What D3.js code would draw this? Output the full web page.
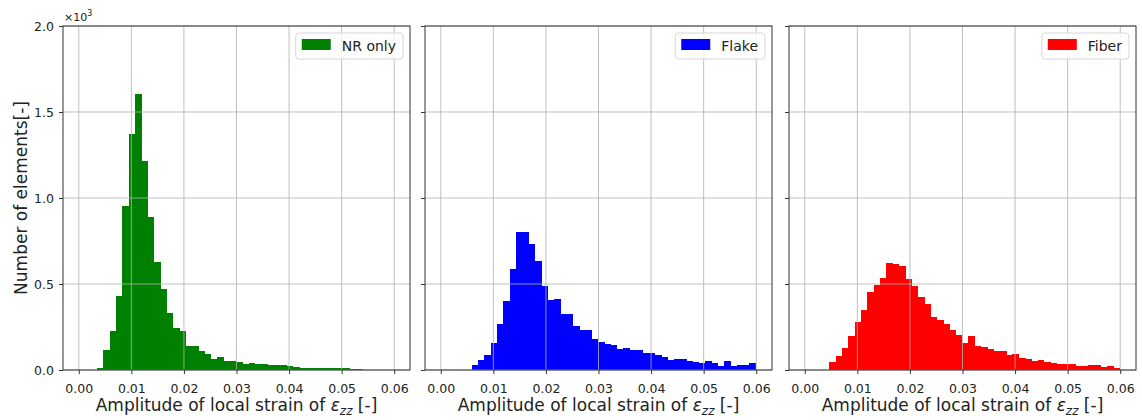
<!DOCTYPE html>
<html>
<head>
<meta charset="utf-8">
<script src="https://cdn.jsdelivr.net/npm/d3@7"></script>
<style>
  body { margin: 0; background: #fff; }
  text { font-family: "DejaVu Sans", sans-serif; fill: #222; }
</style>
</head>
<body>
<svg id="chart" width="1142" height="420"></svg>
<script>
// histogram counts, every bin is 0.0012 wide
const binWidth = 0.0012

const nrStart = 0.0035
const nrCounts = [12, 117, 226, 432, 955, 1371, 1606, 1217, 891, 626, 473, 331, 245, 224, 138, 142,
  113, 91, 64, 78, 51, 51, 45, 37, 41, 37, 33, 29, 27, 31, 23, 19, 14, 12, 10, 12, 14, 14, 12, 10, 6, 4]

const flakeStart = 0.0059
const flakeCounts = [27, 56, 89, 157, 266, 401, 590, 805, 800, 735, 635, 487, 408, 413, 325, 325,
  255, 232, 232, 183, 164, 149, 143, 125, 129, 115, 115, 96, 96, 86, 74, 57, 62, 62, 55, 47, 39,
  53, 43, 25, 55, 25, 31, 31, 43]

const fiberStart = 0.0047
const fiberCounts = [44, 81, 128, 196, 281, 347, 451, 494, 536, 625, 616, 604, 529, 487, 427, 383,
  310, 288, 265, 233, 204, 157, 199, 139, 132, 120, 111, 111, 86, 93, 71, 63, 54, 60, 49, 39, 37,
  34, 37, 26, 24, 28, 28, 20, 23, 11]

const names = ['NR only', 'Flake', 'Fiber']
const colors = ['#008000', '#0000ff', '#ff0000']
const xTicks = [0, 0.01, 0.02, 0.03, 0.04, 0.05, 0.06]
const yTicks = [0, 500, 1000, 1500, 2000]

const panels = [
  { name: names[0], color: colors[0], start: nrStart, counts: nrCounts, left: 63 },
  { name: names[1], color: colors[1], start: flakeStart, counts: flakeCounts, left: 425 },
  { name: names[2], color: colors[2], start: fiberStart, counts: fiberCounts, left: 789 }
]

const svg = d3.select('#chart')
const plotTop = 26, plotBottom = 370, panelW = 347

const y = d3.scaleLinear().domain([0, 2000]).range([plotBottom, plotTop])

panels.forEach(function (p, k) {
  const x = d3.scaleLinear().domain([-0.003, 0.063]).range([p.left, p.left + panelW])
  const g = svg.append('g')

  // the bars
  g.selectAll('rect.bar')
    .data(p.counts)
    .enter()
    .append('rect')
    .classed('bar', true)
    .attr('x', (d, i) => x(p.start + i * binWidth))
    .attr('width', (d, i) => x(p.start + (i + 1) * binWidth) - x(p.start + i * binWidth) + 0.5)
    .attr('y', d => y(d))
    .attr('height', d => y(0) - y(d))
    .attr('fill', p.color)
    .attr('shape-rendering', 'crispEdges')

  // grid sits on top of the bars
  g.selectAll('line.vgrid')
    .data(xTicks)
    .enter()
    .append('line')
    .attr('x1', d => x(d)).attr('x2', d => x(d))
    .attr('y1', plotTop).attr('y2', plotBottom)
    .attr('stroke', '#b0b0b0').attr('stroke-opacity', 0.8).attr('stroke-width', 1)
  g.selectAll('line.hgrid')
    .data(yTicks)
    .enter()
    .append('line')
    .attr('x1', p.left).attr('x2', p.left + panelW)
    .attr('y1', d => y(d)).attr('y2', d => y(d))
    .attr('stroke', '#b0b0b0').attr('stroke-opacity', 0.8).attr('stroke-width', 1)

  // frame
  g.append('rect')
    .attr('x', p.left).attr('y', plotTop)
    .attr('width', panelW).attr('height', plotBottom - plotTop)
    .attr('fill', 'none').attr('stroke', '#333').attr('stroke-width', 1)

  // axes
  const xAxis = g.append('g')
    .attr('transform', `translate(0,${plotBottom})`)
    .call(d3.axisBottom(x).tickValues(xTicks).tickFormat(d3.format('.2f')).tickSize(4).tickPadding(10))
  const yAxis = g.append('g')
    .attr('transform', `translate(${p.left},0)`)
    .call(d3.axisLeft(y).tickValues(yTicks)
      .tickFormat(k === 0 ? (d => (d / 1000).toFixed(1)) : '')
      .tickSize(4).tickPadding(5))
  ;[xAxis, yAxis].forEach(function (a) {
    a.select('.domain').remove()
    a.selectAll('.tick line').attr('stroke', '#333')
    a.selectAll('.tick text').attr('font-family', '"DejaVu Sans", sans-serif')
      .attr('font-size', 12.5).attr('fill', '#222')
  })

  // x label
  const lab = g.append('text')
    .attr('x', p.left + panelW / 2)
    .attr('y', 411)
    .attr('text-anchor', 'middle')
    .attr('font-size', 17)
  lab.append('tspan').text('Amplitude of local strain of ')
  lab.append('tspan').attr('font-style', 'italic').text('ε')
  lab.append('tspan').attr('font-style', 'italic').attr('font-size', 12).attr('dy', 4).text('zz')
  lab.append('tspan').attr('dy', -4).text(' [-]')

  // legend
  const lg = g.append('g')
  const box = lg.append('rect')
  const patch = lg.append('rect')
    .attr('y', plotTop + 13).attr('width', 29).attr('height', 11)
    .attr('fill', p.color)
  const lt = lg.append('text')
    .attr('y', plotTop + 25)
    .attr('font-size', 14)
    .text(p.name)
  const tw = lt.node().getComputedTextLength()
  const boxW = 46 + tw + 7
  const bx = p.left + panelW - 7 - boxW
  box.attr('x', bx).attr('y', plotTop + 7).attr('width', boxW).attr('height', 26)
    .attr('rx', 3).attr('fill', '#fff').attr('fill-opacity', 0.8)
    .attr('stroke', '#d6d6d6').attr('stroke-width', 1)
  patch.attr('x', bx + 6)
  lt.attr('x', bx + 46)
})

// y label and offset text
svg.append('text')
  .attr('transform', 'translate(27,198) rotate(-90)')
  .attr('text-anchor', 'middle')
  .attr('font-size', 17)
  .text('Number of elements[-]')

const off = svg.append('text').attr('x', 64).attr('y', 21).attr('font-size', 11)
off.append('tspan').text('×10')
off.append('tspan').attr('font-size', 8).attr('dy', -5).text('3')
</script>
</body>
</html>
